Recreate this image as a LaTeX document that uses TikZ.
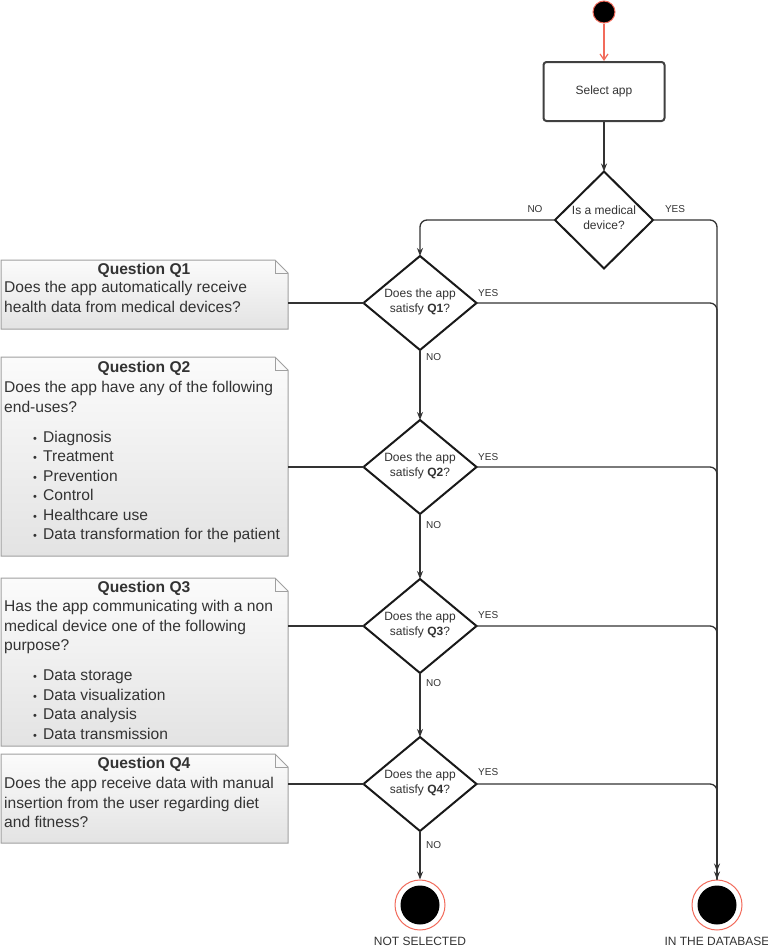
\documentclass[tikz,border=0pt]{standalone}
\usepackage{fontspec}
\setmainfont{Liberation Sans}
\usetikzlibrary{shapes.geometric,arrows.meta}
\definecolor{ink}{HTML}{333333}
\definecolor{redline}{HTML}{F26B5B}
\definecolor{noteline}{HTML}{A0A0A0}
\newcommand\fs{\rule{0pt}{12pt}}
\newcommand\qi[1]{\hspace*{29pt}\makebox[10pt][l]{\fontsize{11}{11}\selectfont\raisebox{0pt}{•}}#1}
\newcommand\notedraw[1]{%
  \path[notefill] (#1.north west) -- ([xshift=-13pt]#1.north east) -- ([yshift=-13pt]#1.north east) -- (#1.south east) -- (#1.south west) -- cycle;
  \draw[notefold] ([xshift=-13pt]#1.north east) -- ([xshift=-13pt,yshift=-13pt]#1.north east) -- ([yshift=-13pt]#1.north east);}
\begin{document}
\begin{tikzpicture}[x=1pt,y=-1pt,
  conn/.style={draw=ink, line width=1.3pt},
  arr/.style={-{Stealth[length=8pt,width=6pt]}},
  dia/.style={diamond, draw=black!90, line width=2pt, fill=white, inner sep=0pt, outer sep=0pt, minimum width=113pt, minimum height=94pt},
  dtext/.style={align=center, text=ink, inner sep=0pt, font=\fontsize{12}{15}\selectfont},
  yn/.style={text=ink, inner sep=0pt, font=\fontsize{10}{12}\selectfont},
  notebg/.style={rectangle, inner sep=0pt, outer sep=0pt, draw=none},
  notefill/.style={draw=noteline, line width=1pt, top color=gray!3, bottom color=gray!22},
  notefold/.style={draw=noteline, line width=0.8pt},
  ttl/.style={anchor=base, inner sep=0pt, text=ink, font=\fontsize{15.6}{19.4}\selectfont\bfseries},
  body/.style={anchor=north west, inner sep=0pt, align=left, text=ink, font=\fontsize{15.6}{19.4}\selectfont},
  endc/.style={circle, minimum size=50pt, inner sep=0pt, draw=redline, line width=1pt, fill=white,
    path picture={\fill[black] (path picture bounding box.center) circle (19.5pt);}},
  endlbl/.style={text=ink, inner sep=0pt, font=\fontsize{12}{14}\selectfont}
]
\useasboundingbox[fill=white] (0,0) rectangle (768,946);

% notes
\node[notebg, minimum width=287pt, minimum height=69pt] (q1n) at (144.5,294.5) {};
\node[notebg, minimum width=287pt, minimum height=199pt] (q2n) at (144.5,456.5) {};
\node[notebg, minimum width=287pt, minimum height=168pt] (q3n) at (144.5,662) {};
\node[notebg, minimum width=287pt, minimum height=89pt] (q4n) at (144.5,798.5) {};
\notedraw{q1n}
\notedraw{q2n}
\notedraw{q3n}
\notedraw{q4n}

\node[ttl] (q1t) at (144,274.5) {Question Q1};
\node[body] (q1b) at (4,280.5) {\fs Does the app automatically receive\\health data from medical devices?};

\node[ttl] (q2t) at (144,372.5) {Question Q2};
\node[body] (q2b) at (4,380.5) {\fs Does the app have any of the following\\end-uses?\\[11pt]\qi{Diagnosis}\\\qi{Treatment}\\\qi{Prevention}\\\qi{Control}\\\qi{Healthcare use}\\\qi{Data transformation for the patient}};

\node[ttl] (q3t) at (144,592.5) {Question Q3};
\node[body] (q3b) at (4,599.5) {\fs Has the app communicating with a non\\medical device one of the following\\purpose?\\[11pt]\qi{Data storage}\\\qi{Data visualization}\\\qi{Data analysis}\\\qi{Data transmission}};

\node[ttl] (q4t) at (144,768.5) {Question Q4};
\node[body] (q4b) at (4,776.5) {\fs Does the app receive data with manual\\insertion from the user regarding diet\\and fitness?};

% main nodes
\node[circle, fill=black, draw=redline, line width=1pt, minimum size=22pt, inner sep=0pt] (start) at (604,12) {};
\node[rectangle, rounded corners=3pt, draw=black!75, line width=2pt, fill=white, minimum width=121pt, minimum height=59pt, text=ink, font=\fontsize{12}{14}\selectfont] (sel) at (604,91.5) {Select app};

\node[dia, minimum width=98pt, minimum height=97pt] (d0) at (604,220) {};
\node[dtext] (d0t) at (604,218) {Is a medical\\device?};

\node[dia] (q1d) at (420,303) {};
\node[dtext] (q1dt) at (420,302) {Does the app\\satisfy \textbf{Q1}?};
\node[dia] (q2d) at (420,467) {};
\node[dtext] (q2dt) at (420,466) {Does the app\\satisfy \textbf{Q2}?};
\node[dia] (q3d) at (420,626) {};
\node[dtext] (q3dt) at (420,625) {Does the app\\satisfy \textbf{Q3}?};
\node[dia] (q4d) at (420,784) {};
\node[dtext] (q4dt) at (420,783) {Does the app\\satisfy \textbf{Q4}?};

\node[endc] (ns) at (420,905) {};
\node[endc] (db) at (717,905) {};
\node[endlbl] (nsl) at (420,941) {NOT SELECTED};
\node[endlbl] (dbl) at (717,941) {IN THE DATABASE};

% connectors
\draw[draw=redline, line width=1.2pt, -{Straight Barb[length=6pt,width=8pt]}] (start) -- (sel);
\draw[conn, arr] (sel) -- (d0);
\draw[conn, arr, rounded corners=7pt] (d0.west) -| (q1d.north);
\draw[conn, arr, rounded corners=7pt] (d0.east) -| (db.north);
\draw[conn, rounded corners=7pt] (q1d.east) -| (db.north);
\draw[conn, rounded corners=7pt] (q2d.east) -| (db.north);
\draw[conn, rounded corners=7pt] (q3d.east) -| (db.north);
\draw[conn, arr, rounded corners=7pt, shorten >=8pt] (q4d.east) -| (db.north);
\draw[conn, arr] (q1d) -- (q2d);
\draw[conn, arr] (q2d) -- (q3d);
\draw[conn, arr] (q3d) -- (q4d);
\draw[conn, arr] (q4d) -- (ns);
\draw[conn] (q1d.west -| q1n.east) -- (q1d.west);
\draw[conn] (q2d.west -| q2n.east) -- (q2d.west);
\draw[conn] (q3d.west -| q3n.east) -- (q3d.west);
\draw[conn] (q4d.west -| q4n.east) -- (q4d.west);

% labels
\node[yn] (d0no) at (535,209) {NO};
\node[yn] (d0yes) at (675,209) {YES};
\node[yn, anchor=west] (q1yes) at (478,293) {YES};
\node[yn, anchor=west] (q2yes) at (478,457) {YES};
\node[yn, anchor=west] (q3yes) at (478,615) {YES};
\node[yn, anchor=west] (q4yes) at (478,772) {YES};
\node[yn, anchor=west] (q1no) at (426,357) {NO};
\node[yn, anchor=west] (q2no) at (426,525) {NO};
\node[yn, anchor=west] (q3no) at (426,683) {NO};
\node[yn, anchor=west] (q4no) at (426,845) {NO};
\end{tikzpicture}
\end{document}
